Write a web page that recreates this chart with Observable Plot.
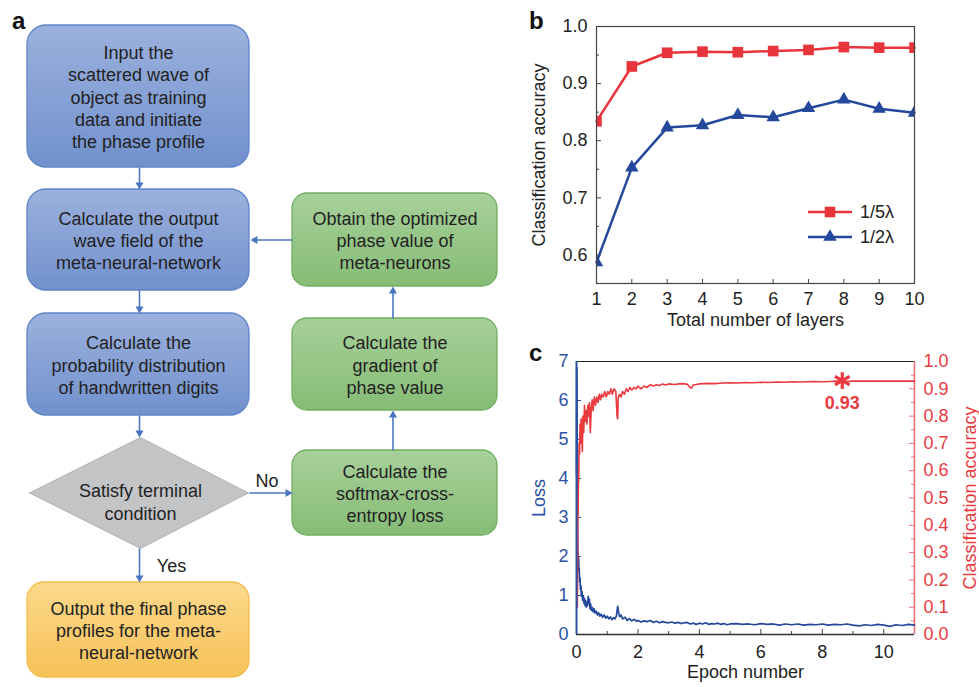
<!DOCTYPE html>
<html><head><meta charset="utf-8">
<script src="https://cdn.jsdelivr.net/npm/d3@7"></script>
<script src="https://cdn.jsdelivr.net/npm/@observablehq/plot@0.6"></script>
<style>
body{margin:0;background:#fff;}
#page{position:relative;width:979px;height:687px;overflow:hidden;background:#fff;font-family:"Liberation Sans",Arial,Helvetica,sans-serif;}
.panel{position:absolute;}
.tag{position:absolute;font-weight:bold;font-size:24px;line-height:24px;color:#111;}
</style></head><body>
<div id="page">
  <div id="flow" class="panel" style="left:0;top:0"></div>
  <div id="chartB" class="panel" style="left:510px;top:0"></div>
  <div id="chartC" class="panel" style="left:510px;top:340px"></div>
  <div class="tag" style="left:12px;top:9px">a</div>
  <div class="tag" style="left:529px;top:9px">b</div>
  <div class="tag" style="left:529px;top:341px">c</div>
</div>
<script>
// ---------- DATA ----------
// Panel a: flowchart
const flowSteps = [
  "Input the\nscattered wave of\nobject as training\ndata and initiate\nthe phase profile",
  "Calculate the output\nwave field of the\nmeta-neural-network",
  "Calculate the\nprobability distribution\nof handwritten digits",
  "Satisfy terminal\ncondition",
  "Output the final phase\nprofiles for the meta-\nneural-network",
  "Calculate the\nsoftmax-cross-\nentropy loss",
  "Calculate the\ngradient of\nphase value",
  "Obtain the optimized\nphase value of\nmeta-neurons"
];
const flowKinds = ["blue", "blue", "blue", "decision", "orange", "green", "green", "green"];
const flowEdges = [[0, 1, ""], [1, 2, ""], [2, 3, ""], [3, 4, "Yes"], [3, 5, "No"], [5, 6, ""], [6, 7, ""], [7, 1, ""]];

// Panel b
const layerCounts = [1, 2, 3, 4, 5, 6, 7, 8, 9, 10];
const acc15 = [0.834, 0.930, 0.954, 0.956, 0.955, 0.957, 0.959, 0.964, 0.963, 0.963];
const acc12 = [0.587, 0.753, 0.823, 0.827, 0.845, 0.841, 0.857, 0.872, 0.856, 0.849];
const seriesNamesB = ["1/5λ", "1/2λ"];
const yTicksB = [0.6, 0.7, 0.8, 0.9, 1.0];
const yMinorB = [0.55, 0.65, 0.75, 0.85, 0.95];

// Panel c
const lossEpochs = [0.000,0.008,0.016,0.024,0.032,0.040,0.050,0.060,0.070,0.080,0.090,0.100,0.115,0.130,0.145,0.160,0.180,0.200,0.220,0.240,0.260,0.280,0.300,0.320,0.340,0.360,0.380,0.400,0.420,0.440,0.460,0.480,0.510,0.540,0.570,0.600,0.640,0.680,0.720,0.760,0.800,0.850,0.900,0.950,1.000,1.050,1.100,1.150,1.200,1.250,1.300,1.340,1.370,1.400,1.450,1.500,1.580,1.650,1.720,1.800,1.880,1.950,
  2.0,2.1,2.2,2.3,2.4,2.5,2.6,2.7,2.8,2.9,3.0,3.1,3.2,3.3,3.4,3.5,3.6,3.7,3.8,3.9,4.0,4.1,4.2,4.3,4.4,4.5,4.6,4.7,4.8,4.9,5.0,5.2,5.4,5.6,5.8,6.0,6.2,6.4,6.6,6.8,7.0,7.2,7.4,7.6,7.8,8.0,8.2,8.4,8.6,8.8,9.0,9.2,9.4,9.6,9.8,10.0,10.2,10.4,10.6,10.8,11.0];
const lossValues = [4.10,6.85,6.60,4.80,2.90,2.30,2.05,1.85,1.95,1.60,1.70,1.35,1.45,1.15,1.25,0.98,1.10,0.88,1.00,0.80,0.92,0.74,0.86,0.70,0.82,0.74,0.98,0.80,0.90,0.66,0.78,0.62,0.70,0.58,0.66,0.55,0.60,0.50,0.56,0.47,0.52,0.44,0.50,0.42,0.47,0.40,0.45,0.38,0.43,0.40,0.48,0.72,0.58,0.46,0.50,0.40,0.44,0.36,0.41,0.35,0.39,0.34,
  0.36,0.32,0.35,0.33,0.36,0.31,0.34,0.30,0.33,0.31,0.30,0.32,0.29,0.31,0.28,0.30,0.31,0.27,0.29,0.26,0.29,0.27,0.30,0.26,0.28,0.27,0.29,0.26,0.28,0.25,0.27,0.28,0.26,0.27,0.25,0.28,0.26,0.27,0.24,0.27,0.25,0.27,0.24,0.26,0.25,0.27,0.24,0.26,0.25,0.27,0.24,0.22,0.25,0.23,0.26,0.24,0.21,0.25,0.23,0.26,0.24];
const accEpochs = [0.016,0.024,0.032,0.040,0.048,0.056,0.064,0.072,0.085,0.100,0.115,0.130,0.150,0.170,0.190,0.210,0.235,0.260,0.285,0.310,0.340,0.370,0.400,0.420,0.450,0.480,0.510,0.540,0.580,0.620,0.660,0.700,0.740,0.780,0.820,0.870,0.920,0.970,1.020,1.070,1.120,1.170,1.220,1.280,1.320,1.340,1.360,1.400,1.450,1.500,1.560,1.620,1.680,1.740,1.800,1.870,1.940,
  2.0,2.1,2.2,2.3,2.4,2.5,2.6,2.7,2.8,2.9,3.0,3.2,3.4,3.6,3.7,3.75,3.8,3.9,4.0,4.25,4.5,4.75,5.0,5.25,5.5,5.75,6.0,6.25,6.5,6.75,7.0,7.25,7.5,7.75,8.0,8.25,8.5,8.75,9.0,9.5,10.0,10.5,11.0];
const accValues = [0.12,0.10,0.16,0.38,0.52,0.44,0.62,0.56,0.70,0.66,0.77,0.70,0.79,0.76,0.67,0.80,0.74,0.84,0.78,0.82,0.77,0.84,0.80,0.85,0.74,0.83,0.86,0.82,0.87,0.84,0.87,0.85,0.88,0.86,0.88,0.87,0.89,0.87,0.89,0.88,0.90,0.88,0.90,0.89,0.80,0.79,0.87,0.88,0.87,0.89,0.88,0.90,0.89,0.905,0.895,0.905,0.90,
  0.91,0.90,0.91,0.905,0.915,0.91,0.915,0.912,0.918,0.914,0.918,0.916,0.919,0.917,0.905,0.903,0.914,0.916,0.918,0.920,0.919,0.921,0.922,0.921,0.923,0.922,0.924,0.923,0.925,0.924,0.926,0.925,0.926,0.927,0.926,0.927,0.928,0.927,0.928,0.928,0.928,0.928,0.928];
const bestEpoch = 8.65, bestAcc = 0.93;
const epochTicks = [0, 2, 4, 6, 8, 10];
const epochMinor = [1, 3, 5, 7, 9];
const lossTicks = [0, 1, 2, 3, 4, 5, 6, 7];
const accTicks = [0.0, 0.1, 0.2, 0.3, 0.4, 0.5, 0.6, 0.7, 0.8, 0.9, 1.0];
const accMinor = [0.05, 0.15, 0.25, 0.35, 0.45, 0.55, 0.65, 0.75, 0.85, 0.95];

// ---------- STYLE / LAYOUT ----------
const FONT = '"Liberation Sans", Arial, Helvetica, sans-serif';
const RED = "#e8343b", BLUE = "#24489c";
const LOSS_BLUE = "#2b52a6", ACC_RED = "#e93a3f";
const ARROW = "#4a76c0";

// flowchart geometry (diagram layout)
const flowColumns = [[27, 249], [292, 497]];
const flowNodeColumn = [0, 0, 0, 0, 0, 1, 1, 1];
const flowNodeRows = [[25, 167], [189, 290], [313, 415], [437, 548], [582, 677], [450, 535], [318, 410], [193, 286]];

const nodes = flowSteps.map((text, i) => {
  const [x1, x2] = flowColumns[flowNodeColumn[i]];
  const [y1, y2] = flowNodeRows[i];
  return {text, kind: flowKinds[i], col: flowNodeColumn[i], x1, x2, y1, y2, cx: (x1 + x2) / 2, cy: (y1 + y2) / 2};
});
const edges = flowEdges.map(([s, t, label]) => {
  const a = nodes[s], b = nodes[t];
  let x1, y1, x2, y2;
  if (a.col === b.col) {
    const x = a.col === 0 ? a.cx + 1 : a.cx - 2;
    x1 = x2 = x;
    if (b.y1 >= a.y2) { y1 = a.y2; y2 = b.y1; } else { y1 = a.y1; y2 = b.y2; }
  } else {
    y1 = y2 = a.cy;
    if (b.x1 >= a.x2) { x1 = a.x2; x2 = b.x1; } else { x1 = a.x1; x2 = b.x2 + 1; }
  }
  const dx = Math.sign(x2 - x1), dy = Math.sign(y2 - y1);
  const rot = dy > 0 ? 180 : dy < 0 ? 0 : dx > 0 ? 90 : 270;
  return {x1, y1, x2, y2, label, rot, hx: x2 - dx * 4.6, hy: y2 - dy * 4.6, mx: (x1 + x2) / 2, my: (y1 + y2) / 2};
});
const diamond = nodes.filter(d => d.kind === "decision").flatMap(d => [
  {x: d.x1 + 2, y: d.cy}, {x: d.cx + 2, y: d.y1}, {x: d.x2 - 1, y: d.cy}, {x: d.cx + 2, y: d.y2}, {x: d.x1 + 2, y: d.cy}
]);

const gradients = () => {
  const defs = d3.create("svg:defs");
  const stops = {gBlue: ["#9cb1dd", "#7191cd"], gGreen: ["#a7d09a", "#86bc76"], gOrange: ["#fcd98c", "#f6c158"]};
  for (const [id, [c0, c1]] of Object.entries(stops)) {
    const g = defs.append("linearGradient").attr("id", id).attr("x1", 0).attr("x2", 0).attr("y1", 0).attr("y2", 1);
    g.append("stop").attr("offset", "0%").attr("stop-color", c0);
    g.append("stop").attr("offset", "100%").attr("stop-color", c1);
  }
  return defs.node();
};

const flow = Plot.plot({
  width: 505, height: 687, margin: 0,
  style: {fontFamily: FONT, fontSize: "18px", color: "#222", background: "transparent", overflow: "visible"},
  x: {domain: [0, 505], range: [0, 505], axis: null},
  y: {domain: [0, 687], range: [0, 687], axis: null},
  marks: [
    gradients,
    Plot.rect(nodes.filter(d => d.kind === "blue"), {x1: "x1", x2: "x2", y1: "y1", y2: "y2", rx: 19, fill: "url(#gBlue)", stroke: "#5f84c9", strokeWidth: 1.3}),
    Plot.rect(nodes.filter(d => d.kind === "green"), {x1: "x1", x2: "x2", y1: "y1", y2: "y2", rx: 15, fill: "url(#gGreen)", stroke: "#70ae5f", strokeWidth: 1.3}),
    Plot.rect(nodes.filter(d => d.kind === "orange"), {x1: "x1", x2: "x2", y1: "y1", y2: "y2", rx: 17, fill: "url(#gOrange)", stroke: "#f3bd4f", strokeWidth: 1.3}),
    Plot.line(diamond, {x: "x", y: "y", fill: "#c3c4c6", stroke: "#b2b4b6", strokeWidth: 1}),
    Plot.text(nodes.filter(d => d.kind !== "decision"), {x: "cx", y: "cy", text: "text", lineHeight: 1.24, fontSize: 18, fill: "#222"}),
    Plot.text(nodes.filter(d => d.kind === "decision"), {x: "cx", y: "cy", text: "text", dx: 2, dy: 8, lineHeight: 1.27, fontSize: 18, fill: "#222"}),
    Plot.link(edges, {x1: "x1", y1: "y1", x2: "hx", y2: "hy", stroke: ARROW, strokeWidth: 1.6}),
    Plot.dot(edges, {x: "hx", y: "hy", symbol: "triangle", r: 3, fill: ARROW, rotate: "rot"}),
    Plot.text(edges.filter(d => d.label === "Yes"), {x: "mx", y: "my", text: "label", dx: 32, dy: 1, fontSize: 18, fill: "#222"}),
    Plot.text(edges.filter(d => d.label === "No"), {x: "mx", y: "my", text: "label", dx: -4, dy: -12, fontSize: 18, fill: "#222"})
  ]
});
document.getElementById("flow").append(flow);

// ---------- PANEL B ----------
const WB = 469, HB = 340, MLB = 86, MRB = 65, MTB = 26, MBB = 57;
const pwB = WB - MLB - MRB, phB = HB - MTB - MBB;
const rowsB = [
  ...layerCounts.map((l, i) => ({layer: l, acc: acc15[i], name: seriesNamesB[0]})),
  ...layerCounts.map((l, i) => ({layer: l, acc: acc12[i], name: seriesNamesB[1]}))
];
const legendB = (index, scales, values, dims) => {
  const ml = dims && dims.marginLeft != null ? dims.marginLeft : MLB;
  const mt = dims && dims.marginTop != null ? dims.marginTop : MTB;
  const g = d3.create("svg:g");
  const items = [
    {label: seriesNamesB[0], color: RED, sym: d3.symbolSquare, size: 112},
    {label: seriesNamesB[1], color: BLUE, sym: d3.symbolTriangle, size: 78}
  ];
  items.forEach((it, i) => {
    const y = mt + 186 + i * 25, x0 = ml + 212;
    g.append("line").attr("x1", x0).attr("x2", x0 + 44).attr("y1", y).attr("y2", y).attr("stroke", it.color).attr("stroke-width", 2.5);
    g.append("path").attr("d", d3.symbol(it.sym, it.size)()).attr("transform", `translate(${x0 + 22},${y})`).attr("fill", it.color);
    g.append("text").attr("x", x0 + 52).attr("y", y).attr("dy", "0.35em").attr("text-anchor", "start")
      .attr("fill", "#222").attr("font-size", 18).text(it.label);
  });
  return g.node();
};
const chartB = Plot.plot({
  width: WB, height: HB, marginLeft: MLB, marginRight: MRB, marginTop: MTB, marginBottom: MBB,
  style: {fontFamily: FONT, fontSize: "18px", color: "#222", background: "transparent", overflow: "visible"},
  x: {domain: [1, 10], ticks: layerCounts, tickFormat: "d", tickSize: 0, tickPadding: 9, label: null},
  y: {domain: [0.55, 1.0], ticks: yTicksB, tickFormat: ".1f", tickSize: 0, tickPadding: 9, label: null},
  color: {domain: seriesNamesB, range: [RED, BLUE]},
  marks: [
    Plot.tickX(layerCounts.slice(1, -1), {x: d => d, insetTop: phB - 4, stroke: "#444"}),
    Plot.tickY(yTicksB.slice(0, -1), {y: d => d, insetRight: pwB - 5, stroke: "#444"}),
    Plot.tickY(yMinorB, {y: d => d, insetRight: pwB - 3, stroke: "#444"}),
    Plot.line(rowsB, {x: "layer", y: "acc", z: "name", stroke: "name", strokeWidth: 2.5}),
    Plot.dot(rowsB.filter(d => d.name === seriesNamesB[0]), {x: "layer", y: "acc", symbol: "square", r: 6, fill: RED, clip: true}),
    Plot.dot(rowsB.filter(d => d.name === seriesNamesB[1]), {x: "layer", y: "acc", symbol: "triangle", r: 5, fill: BLUE, clip: true}),
    Plot.frame({stroke: "#444", strokeWidth: 1.2}),
    legendB,
    Plot.text(["Total number of layers"], {text: d => d, frameAnchor: "bottom", textAnchor: "middle", dy: 42, fontSize: 18, fill: "#222"}),
    Plot.text(["Classification accuracy"], {text: d => d, frameAnchor: "left", textAnchor: "middle", dx: -57, rotate: -90, fontSize: 18, fill: "#222"})
  ]
});
document.getElementById("chartB").append(chartB);

// ---------- PANEL C ----------
const WC = 469, HC = 347, MLC = 66, MRC = 65, MTC = 21, MBC = 53;
const pwC = WC - MLC - MRC, phC = HC - MTC - MBC;
const LOSS_MAX = 7;
const lossRows = lossEpochs.map((e, i) => ({epoch: e, loss: lossValues[i]}));
const accRows = accEpochs.map((e, i) => ({epoch: e, acc: accValues[i]}));
const best = [{epoch: bestEpoch, acc: bestAcc}];
const chartC = Plot.plot({
  width: WC, height: HC, marginLeft: MLC, marginRight: MRC, marginTop: MTC, marginBottom: MBC,
  style: {fontFamily: FONT, fontSize: "18px", color: "#222", background: "transparent", overflow: "visible"},
  x: {domain: [0, 11], ticks: epochTicks, tickFormat: "d", tickSize: 0, tickPadding: 11, label: null},
  y: {domain: [0, LOSS_MAX], axis: null},
  marks: [
    Plot.tickX(epochTicks.slice(1), {x: d => d, insetTop: phC - 5, stroke: "#444"}),
    Plot.tickX(epochMinor, {x: d => d, insetTop: phC - 3, stroke: "#444"}),
    Plot.tickY(lossTicks.slice(1, -1), {y: d => d, insetRight: pwC - 5, stroke: LOSS_BLUE}),
    Plot.tickY(accTicks.slice(1, -1), {y: d => d * LOSS_MAX, insetLeft: pwC - 5, stroke: "#ef6d72"}),
    Plot.tickY(accMinor, {y: d => d * LOSS_MAX, insetLeft: pwC - 3, stroke: "#ef6d72"}),
    Plot.ruleY([LOSS_MAX], {stroke: "#222", strokeWidth: 1}),
    Plot.ruleY([0], {stroke: "#333", strokeWidth: 1.3}),
    Plot.ruleX([11], {stroke: "#ef6d72", strokeWidth: 1.5}),
    Plot.line(lossRows, {x: "epoch", y: "loss", stroke: BLUE, strokeWidth: 1.7}),
    Plot.line(accRows, {x: "epoch", y: d => d.acc * LOSS_MAX, stroke: ACC_RED, strokeWidth: 1.6}),
    Plot.ruleX([0], {stroke: LOSS_BLUE, strokeWidth: 2}),
    Plot.dot(best, {x: "epoch", y: d => d.acc * LOSS_MAX, symbol: "asterisk", r: 8, stroke: ACC_RED, strokeWidth: 3.2}),
    Plot.text(best, {x: "epoch", y: d => d.acc * LOSS_MAX, text: d => d.acc.toFixed(2), dy: 23, fontSize: 18, fontWeight: "bold", fill: ACC_RED}),
    Plot.text(lossTicks, {y: d => d, text: d => String(d), frameAnchor: "left", dx: -8, textAnchor: "end", fontSize: 18, fill: LOSS_BLUE}),
    Plot.text(accTicks, {y: d => d * LOSS_MAX, text: d => d.toFixed(1), frameAnchor: "right", dx: 9, textAnchor: "start", fontSize: 18, fill: ACC_RED}),
    Plot.text(["Loss"], {text: d => d, frameAnchor: "left", textAnchor: "middle", dx: -37, rotate: -90, fontSize: 18, fill: LOSS_BLUE}),
    Plot.text(["Classification accuracy"], {text: d => d, frameAnchor: "right", textAnchor: "middle", dx: 56, rotate: -90, fontSize: 18, fill: ACC_RED}),
    Plot.text(["Epoch number"], {text: d => d, frameAnchor: "bottom", textAnchor: "middle", dy: 43, fontSize: 18, fill: "#222"})
  ]
});
document.getElementById("chartC").append(chartC);
</script>
</body></html>
